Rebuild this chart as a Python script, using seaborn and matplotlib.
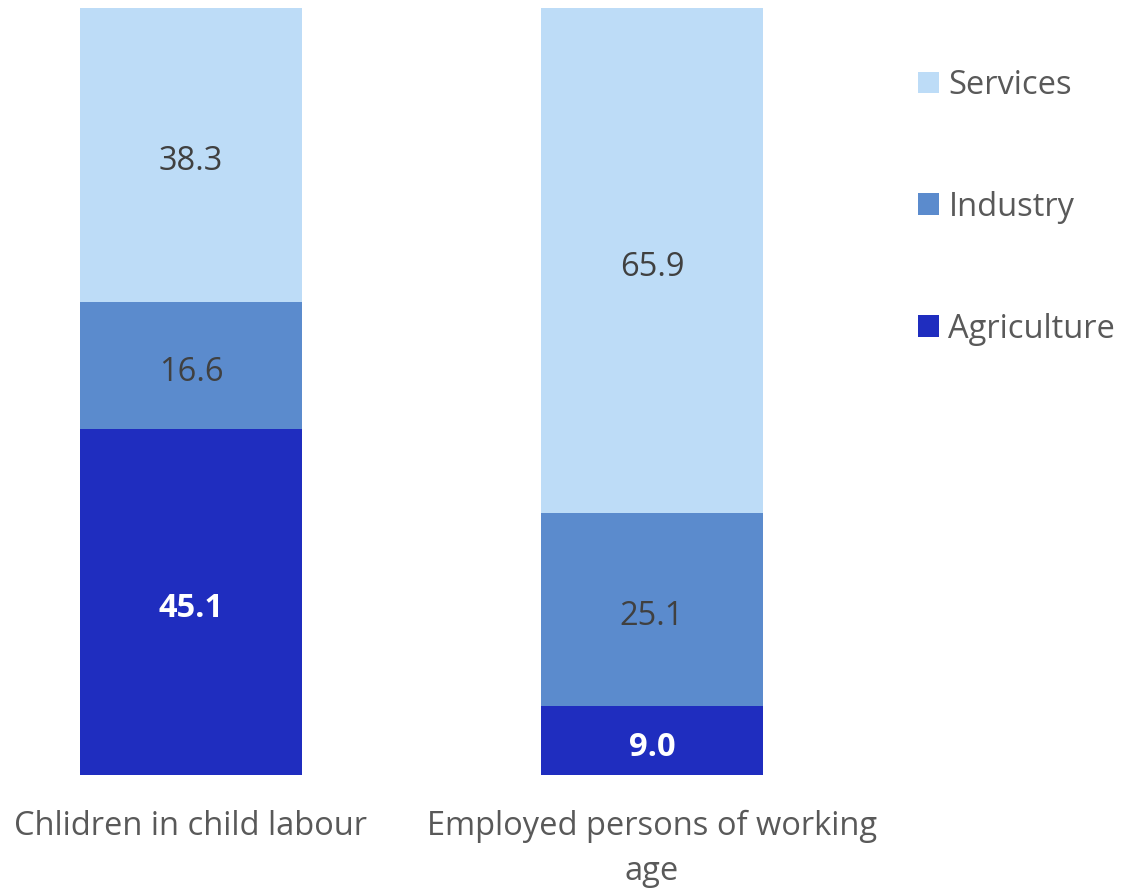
import matplotlib
matplotlib.use("Agg")
import matplotlib.pyplot as plt
from matplotlib.patches import Patch
import seaborn as sns
import pandas as pd

groups = ["Chlidren in child labour", "Employed persons of working\nage"]
sectors = ["Agriculture", "Industry", "Services"]
agriculture = [45.1, 9.0]
industry = [16.6, 25.1]
services = [38.3, 65.9]

colors = {"Agriculture": "#1F2DBF", "Industry": "#5B8BCD", "Services": "#BDDCF7"}
label_style = {
    "Agriculture": dict(color="white", fontweight="bold"),
    "Industry": dict(color="#404040"),
    "Services": dict(color="#404040"),
}

sns.set_theme(style="white")
plt.rcParams["font.family"] = ["Open Sans", "DejaVu Sans"]
FS = 23.5

fig = plt.figure(figsize=(11.22, 8.88), dpi=100)
ax = fig.add_axes([0.0, 1 - 775 / 888, 860 / 1122, (775 - 8) / 888])

values = {"Agriculture": agriculture, "Industry": industry, "Services": services}
bottom = [0.0, 0.0]
for s in sectors:
    df = pd.DataFrame({"group": groups, "value": values[s]})
    sns.barplot(data=df, x="group", y="value", color=colors[s], width=0.48,
                bottom=bottom, ax=ax, saturation=1, linewidth=0, order=groups)
    for i, v in enumerate(values[s]):
        ax.annotate(f"{v:.1f}", (i, bottom[i] + v / 2), xytext=(0, -5),
                    textcoords="offset points", ha="center", va="center",
                    fontsize=FS, **label_style[s])
    bottom = [b + v for b, v in zip(bottom, values[s])]

ax.set_ylim(0, 100)
ax.set_xlim(-191 / 461, (860 - 191) / 461)
ax.set_xlabel("")
ax.set_ylabel("")
ax.set_yticks([])
ax.tick_params(axis="x", length=0, pad=25, labelsize=FS, labelcolor="#595959")
for lbl in ax.get_xticklabels():
    lbl.set_linespacing(1.5)
for sp in ax.spines.values():
    sp.set_visible(False)

handles = [Patch(facecolor=colors[s], edgecolor="none") for s in reversed(sectors)]
fig.legend(handles, list(reversed(sectors)), loc="upper left",
           bbox_to_anchor=(905 / 1122, 1 - 56 / 888), frameon=False,
           fontsize=FS, labelcolor="#595959", handlelength=0.65, handleheight=0.65,
           handletextpad=0.28, labelspacing=2.72, borderpad=0.4, borderaxespad=0)

fig.savefig("out.png", dpi=100)
